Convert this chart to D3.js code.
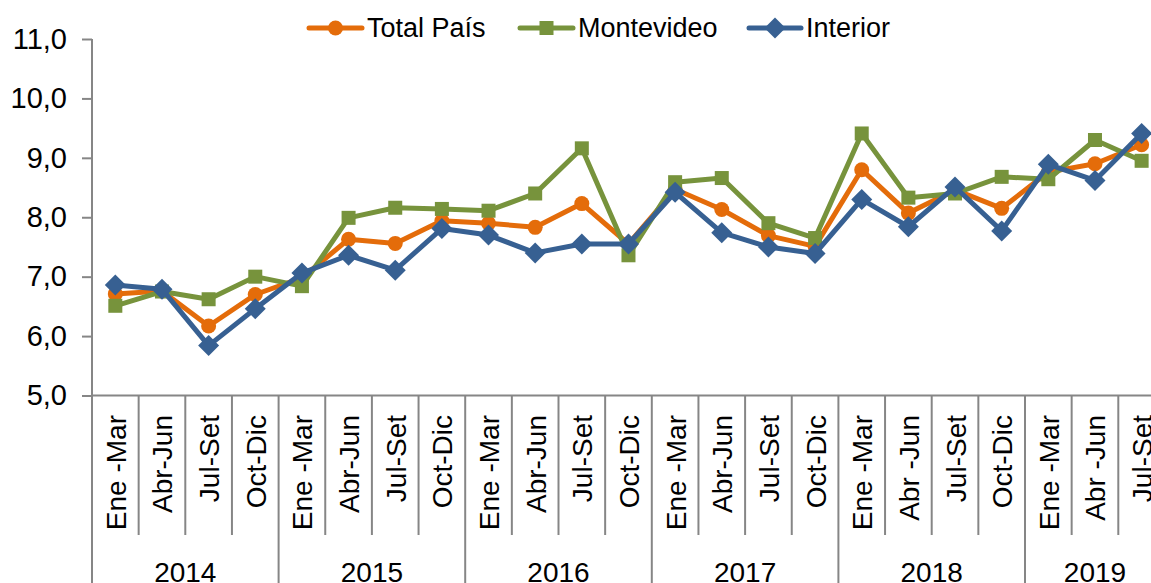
<!DOCTYPE html>
<html>
<head>
<meta charset="utf-8">
<script src="https://cdn.jsdelivr.net/npm/d3@7"></script>
<style>
  html, body { margin: 0; padding: 0; background: #fff; overflow: hidden; }
  svg { display: block; font-family: "Liberation Sans", Arial, sans-serif; }
</style>
</head>
<body>
<svg id="chart" width="1151" height="583"></svg>
<script>
const quarters = ["Ene -Mar","Abr-Jun","Jul-Set","Oct-Dic",
                  "Ene -Mar","Abr-Jun","Jul-Set","Oct-Dic",
                  "Ene -Mar","Abr-Jun","Jul-Set","Oct-Dic",
                  "Ene -Mar","Abr-Jun","Jul-Set","Oct-Dic",
                  "Ene -Mar","Abr -Jun","Jul-Set","Oct-Dic",
                  "Ene -Mar","Abr -Jun","Jul-Set"];
const years = ["2014","2015","2016","2017","2018","2019"];
const yearCounts = [4,4,4,4,4,3];
const totalPais = [6.71,6.76,6.17,6.70,6.98,7.63,7.56,7.94,7.90,7.83,8.23,7.55,8.47,8.13,7.69,7.51,8.80,8.07,8.46,8.15,8.76,8.90,9.22];
const montevideo = [6.51,6.75,6.62,7.00,6.84,7.99,8.16,8.14,8.11,8.40,9.16,7.36,8.59,8.66,7.90,7.65,9.41,8.33,8.40,8.68,8.64,9.30,8.95];
const interior = [6.86,6.79,5.84,6.46,7.06,7.36,7.11,7.81,7.70,7.40,7.55,7.55,8.42,7.74,7.50,7.39,8.30,7.84,8.51,7.77,8.89,8.62,9.41];
const yTicks = [5,6,7,8,9,10,11];

const series = [
  {name: "Total País", values: totalPais, color: "#E46C0A", marker: "circle"},
  {name: "Montevideo", values: montevideo, color: "#77933C", marker: "square"},
  {name: "Interior", values: interior, color: "#376092", marker: "diamond"}
];

const svg = d3.select("#chart");
const plotLeft = 92, bandW = 46.65;
const plotRight = plotLeft + bandW * quarters.length;
const plotTop = 39, plotBottom = 395.5;
const axisColor = "#868686";
const font = 28;

const idx = quarters.map((d, i) => i);
const x = d3.scaleBand().domain(idx).range([plotLeft, plotRight]).paddingInner(0).paddingOuter(0);
const y = d3.scaleLinear().domain([5, 11]).range([plotBottom, plotTop]);

// Y axis
const yAxis = d3.axisLeft(y).tickValues(yTicks).tickSize(10).tickPadding(15)
  .tickFormat(d => d3.format(".1f")(d).replace(".", ","));
const gy = svg.append("g").attr("transform", `translate(${plotLeft},0)`).call(yAxis);
gy.select(".domain").remove();
gy.selectAll(".tick line").attr("stroke", axisColor).attr("stroke-width", 2);
gy.selectAll(".tick text").attr("font-size", 29).attr("fill", "#000")
  .attr("font-family", "Liberation Sans, Arial, sans-serif");
svg.append("line").attr("x1", plotLeft).attr("x2", plotLeft).attr("y1", plotTop).attr("y2", 583)
  .attr("stroke", axisColor).attr("stroke-width", 2);

// X axis baseline
svg.append("line").attr("x1", plotLeft).attr("x2", plotRight).attr("y1", plotBottom).attr("y2", plotBottom)
  .attr("stroke", axisColor).attr("stroke-width", 2);

// category separators and labels
let start = 0;
const yearStarts = [];
yearCounts.forEach(c => { yearStarts.push(start); start += c; });
idx.forEach(i => {
  if (i === 0) return;
  const isYear = yearStarts.includes(i);
  const xp = x(i);
  svg.append("line").attr("x1", xp).attr("x2", xp).attr("y1", plotBottom)
    .attr("y2", isYear ? 583 : 535)
    .attr("stroke", axisColor).attr("stroke-width", 2);
});
svg.append("line").attr("x1", plotRight).attr("x2", plotRight).attr("y1", plotBottom).attr("y2", 583)
  .attr("stroke", axisColor).attr("stroke-width", 2);

svg.append("g").selectAll("text").data(quarters).join("text")
  .attr("transform", (d, i) => `translate(${x(i) + bandW / 2 + 1},415) rotate(-90)`)
  .attr("text-anchor", "end")
  .attr("dominant-baseline", "central")
  .attr("font-size", font).attr("fill", "#000")
  .text(d => d);

svg.append("g").selectAll("text").data(years).join("text")
  .attr("x", (d, i) => x(yearStarts[i]) + bandW * yearCounts[i] / 2)
  .attr("y", 582)
  .attr("text-anchor", "middle")
  .attr("font-size", font).attr("fill", "#000")
  .text(d => d);

// lines & markers
function drawMarker(g, type, cx, cy, color, s) {
  if (type === "circle") {
    g.append("circle").attr("cx", cx).attr("cy", cy).attr("r", s.r).attr("fill", color);
  } else if (type === "square") {
    g.append("rect").attr("x", cx - s.sq / 2).attr("y", cy - s.sq / 2)
      .attr("width", s.sq).attr("height", s.sq).attr("fill", color);
  } else {
    const h = s.dm;
    g.append("path").attr("d", `M${cx},${cy - h}L${cx + h},${cy}L${cx},${cy + h}L${cx - h},${cy}Z`)
      .attr("fill", color);
  }
}
const sizes = {r: 7.5, sq: 14, dm: 10.5};
const line = d3.line().x((d, i) => x(i) + bandW / 2).y(d => y(d));
series.forEach(s => {
  const g = svg.append("g");
  g.append("path").attr("d", line(s.values)).attr("fill", "none")
    .attr("stroke", s.color).attr("stroke-width", 5).attr("stroke-linejoin", "round")
    .attr("stroke-linecap", "round");
  s.values.forEach((v, i) => drawMarker(g, s.marker, x(i) + bandW / 2, y(v), s.color, sizes));
});

// legend
const legendItems = [
  {x1: 309, x2: 362, tx: 367},
  {x1: 520, x2: 573, tx: 578},
  {x1: 749, x2: 801, tx: 806}
];
const ly = 28;
series.forEach((s, i) => {
  const L = legendItems[i];
  const g = svg.append("g");
  g.append("line").attr("x1", L.x1).attr("x2", L.x2).attr("y1", ly).attr("y2", ly)
    .attr("stroke", s.color).attr("stroke-width", 5).attr("stroke-linecap", "round");
  drawMarker(g, s.marker, (L.x1 + L.x2) / 2, ly, s.color, sizes);
  g.append("text").attr("x", L.tx).attr("y", ly).attr("dominant-baseline", "central")
    .attr("font-size", 27).attr("fill", "#000").text(s.name);
});
</script>
</body>
</html>
